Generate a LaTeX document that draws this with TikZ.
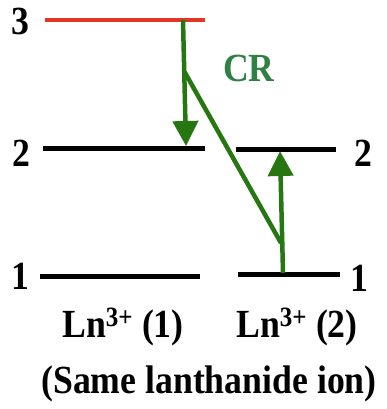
\documentclass[tikz,border=0pt]{standalone}
\usepackage{fontspec}
\setmainfont{Liberation Serif}
\usepackage{graphicx}
\usetikzlibrary{arrows.meta}
\definecolor{redlvl}{RGB}{228,52,40}
\definecolor{garrow}{RGB}{38,118,18}
\definecolor{gtext}{RGB}{48,128,68}
\newcommand\vs[1]{\scalebox{1.02}[1.14]{#1}}
\tikzset{
  level/.style={line width=5pt},
  toplevel/.style={line width=4pt, draw=redlvl},
  trans/.style={line width=4.5pt, draw=garrow},
  transarrow/.style={trans, -{Triangle[length=25pt,width=25pt]}, color=garrow},
  lbl/.style={inner sep=0pt, font=\fontsize{35}{40}\selectfont\bfseries},
}
\begin{document}
\begin{tikzpicture}[x=1pt,y=-1pt]
\useasboundingbox (0,0) rectangle (386,409);
% level end points
\coordinate (L3a) at (45,20);  \coordinate (L3b) at (205,20);
\coordinate (L2a) at (43,148); \coordinate (L2b) at (205,148);
\coordinate (R2a) at (236,149); \coordinate (R2b) at (336,149);
\coordinate (L1a) at (40,276); \coordinate (L1b) at (200,276);
\coordinate (R1a) at (238,274); \coordinate (R1b) at (340,274);
\draw[toplevel] (L3a) -- (L3b);
\draw[level] (L2a) -- (L2b);
\draw[level] (R2a) -- (R2b);
\draw[level] (L1a) -- (L1b);
\draw[level] (R1a) -- (R1b);
% level labels
\node[lbl] (n3) at (20,21) {\vs{3}};
\node[lbl] (n2l) at (21,153) {\vs{2}};
\node[lbl] (n1l) at (20,276) {\vs{1}};
\node[lbl] (n2r) at (363,153) {\vs{2}};
\node[lbl] (n1r) at (359,278) {\vs{1}};
% cross relaxation
\coordinate (g3) at (183,20);
\coordinate (g2) at (186,146);
\coordinate (gm) at (184.6,72);
\coordinate (gd) at (281,243);
\coordinate (r1) at (283,273);
\coordinate (r2) at (280,151);
\draw[transarrow] (g3) -- (g2);
\draw[trans] (gm) -- (gd);
\draw[transarrow] (r1) -- (r2);
\node[lbl, text=gtext] (cr) at (249,68) {\vs{CR}};
% ion labels
\node[lbl] (ion1) at (123,327) {\vs{Ln\textsuperscript{3+} (1)}};
\node[lbl] (ion2) at (297,327) {\vs{Ln\textsuperscript{3+} (2)}};
\node[lbl] (same) at (209,384) {\vs{(Same lanthanide ion)}};
\end{tikzpicture}
\end{document}
